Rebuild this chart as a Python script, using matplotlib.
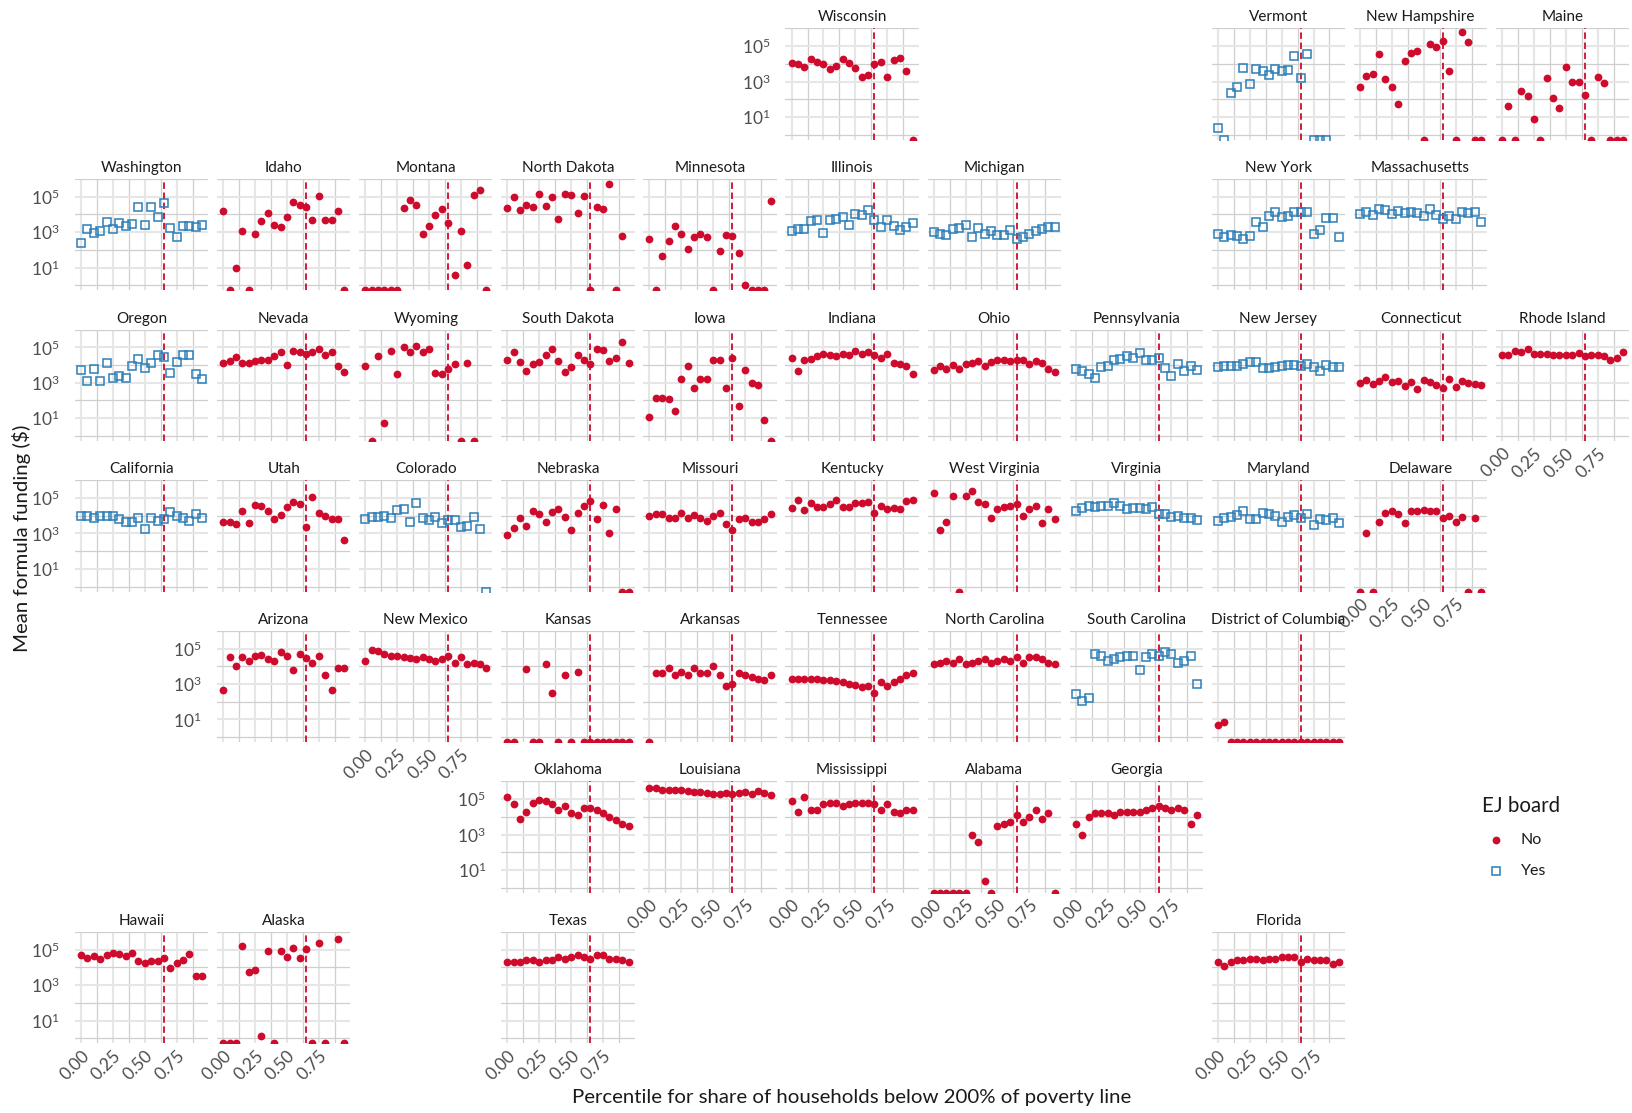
import numpy as np
import matplotlib.pyplot as plt
from matplotlib.lines import Line2D
from matplotlib.ticker import FixedLocator, FuncFormatter, NullFormatter

plt.rcParams['font.family'] = ['Lato', 'DejaVu Sans']
plt.rcParams['mathtext.fontset'] = 'custom'
plt.rcParams['mathtext.rm'] = 'Lato'
plt.rcParams['mathtext.it'] = 'Lato:italic'
plt.rcParams['mathtext.bf'] = 'Lato:bold'

# poverty percentile bins and the disadvantaged-community cutoff
pct = [0.00, 0.05, 0.10, 0.15, 0.20, 0.25, 0.30, 0.35, 0.40, 0.45,
       0.50, 0.55, 0.60, 0.65, 0.70, 0.75, 0.80, 0.85, 0.90, 0.95]
cutoff = 0.65

N = None      # bin received no funding ($0)
NA = np.nan   # bin has no tracts

# log10 of mean formula funding ($) per percentile bin
wisconsin = [4.04, 4.0, 3.83, 4.28, 4.13, 3.98, 3.72, 3.9, 4.28, 4.04, 3.75, 3.28, 3.38, 3.98, 4.11, 3.28, 4.23, 4.32, 3.57, N]
vermont = [0.38, N, 2.35, 2.72, 3.77, 2.87, 3.72, 3.58, 3.38, 3.73, 3.6, 3.66, 4.46, 3.21, 4.56, N, N, N, NA, NA]
new_hampshire = [2.67, 3.32, 3.4, 4.58, 3.12, 2.69, 1.75, 4.15, 4.63, 4.73, N, 5.1, 4.95, 5.29, 3.57, N, 5.78, 5.23, N, N]
maine = [N, 1.62, N, 2.48, 2.2, 0.91, N, 3.21, 2.1, 1.51, 3.85, 2.99, 2.99, 2.25, N, 3.23, 2.91, N, N, N]

washington = [2.39, 3.18, 2.95, 3.05, 3.56, 3.2, 3.5, 3.33, 3.48, 4.4, 3.39, 4.42, 3.87, 4.66, 3.26, 2.71, 3.35, 3.35, 3.29, 3.42]
idaho = [4.17, N, 1.0, 3.09, N, 2.9, 3.65, 4.08, 3.39, 3.29, 3.86, 4.72, 4.51, 4.4, 3.67, 5.02, 3.69, 3.69, 4.19, N]
montana = [N, N, N, N, N, N, 4.39, 4.84, 4.54, 2.89, 3.34, 3.96, 4.31, 3.5, 0.6, 3.04, 1.12, 5.08, 5.36, N]
north_dakota = [4.39, 5.0, 4.24, 4.52, 4.41, 5.17, 4.48, 4.97, 3.75, 5.17, 5.1, 4.09, 5.02, N, 4.41, 4.31, 5.7, N, 2.77, NA]
minnesota = [2.64, N, 1.68, 2.51, 3.35, 2.92, 2.06, 2.72, 2.87, 2.74, N, 1.91, 2.85, 2.81, 1.85, 0.0, N, N, N, 4.76]
illinois = [3.07, 3.19, 3.19, 3.62, 3.69, 2.96, 3.69, 3.75, 3.84, 3.43, 4.01, 3.99, 4.24, 3.67, 3.28, 3.69, 3.32, 3.15, 3.28, 3.49]
michigan = [3.0, 2.92, 2.85, 3.19, 3.24, 3.43, 2.74, 3.22, 2.9, 3.09, 2.85, 2.85, 3.13, 2.62, 2.75, 2.9, 3.05, 3.2, 3.3, 3.3]
new_york = [2.9, 2.7, 2.83, 2.77, 2.6, 2.79, 3.6, 3.28, 3.94, 4.11, 3.84, 3.94, 4.16, 4.16, 4.16, 2.9, 3.13, 3.79, 3.82, 2.7]
massachusetts = [4.01, 4.12, 3.99, 4.29, 4.26, 4.01, 4.22, 4.09, 4.14, 4.07, 3.9, 4.29, 3.96, 3.75, 3.94, 3.77, 4.16, 4.07, 4.12, 3.6]

oregon = [3.73, 3.11, 3.77, 3.09, 4.09, 3.28, 3.41, 3.26, 3.92, 4.35, 3.82, 4.12, 4.56, 4.44, 3.54, 4.16, 4.54, 4.59, 3.5, 3.2]
nevada = [4.09, 4.22, 4.48, 4.09, 4.14, 4.24, 4.31, 4.31, 4.5, 4.71, 4.01, 4.78, 4.76, 4.65, 4.72, 4.93, 4.54, 4.71, 3.94, 3.62]
wyoming = [3.97, N, 4.5, 0.75, 4.78, 3.52, 4.99, 4.74, 5.08, 4.72, 4.89, 3.56, 3.47, 3.8, 4.07, N, 4.11, N, NA, NA]
south_dakota = [4.26, 4.74, 4.18, 3.69, 4.05, 4.18, 4.56, 4.93, 4.24, 3.62, 3.88, 4.56, 4.31, 4.07, 4.89, 4.84, 4.22, 4.37, 5.31, 4.09]
iowa = [1.05, 2.12, 2.14, 2.06, 1.38, 3.24, 3.96, 2.7, 3.2, 3.2, 4.27, 4.31, 2.72, 4.39, 1.67, 3.71, 3.0, 2.9, 0.92, N]
indiana = [4.41, 3.67, 4.27, 4.33, 4.5, 4.63, 4.59, 4.52, 4.65, 4.56, 4.78, 4.61, 4.74, 4.54, 4.41, 4.63, 4.14, 4.05, 3.96, 3.52]
ohio = [3.71, 3.94, 3.79, 3.99, 3.77, 4.05, 4.14, 4.22, 3.97, 4.18, 4.26, 4.31, 4.2, 4.29, 4.29, 4.07, 4.2, 4.12, 3.8, 3.6]
pennsylvania = [3.77, 3.65, 3.47, 3.28, 3.9, 3.96, 4.31, 4.33, 4.5, 4.39, 4.67, 4.27, 4.27, 4.42, 3.82, 3.37, 4.05, 3.65, 3.92, 3.73]
new_jersey = [3.88, 3.96, 3.96, 3.94, 4.07, 4.16, 4.16, 3.86, 3.84, 3.9, 3.94, 3.99, 3.99, 3.97, 4.05, 3.88, 3.67, 3.99, 3.9, 3.9]
connecticut = [2.96, 3.17, 2.92, 3.09, 3.3, 3.07, 3.09, 2.83, 3.04, 2.66, 3.13, 3.02, 2.9, 2.72, 3.24, 2.76, 3.09, 3.0, 2.94, 2.89]
rhode_island = [4.57, 4.57, 4.8, 4.72, 4.89, 4.63, 4.63, 4.65, 4.56, 4.57, 4.57, 4.59, 4.69, 4.5, 4.54, 4.54, 4.5, 4.31, 4.41, 4.72]

california = [3.99, 3.99, 3.84, 3.97, 3.97, 3.97, 3.79, 3.64, 3.64, 3.86, 3.24, 3.86, 3.71, 3.8, 4.22, 3.99, 3.86, 3.71, 4.07, 3.84]
utah = [3.62, 3.62, 3.52, 4.27, 3.6, 4.61, 4.52, 4.26, 3.82, 4.01, 4.5, 4.78, 4.67, 3.35, 5.06, 4.16, 3.99, 3.8, 3.82, 2.62]
colorado = [3.79, 3.92, 3.94, 3.97, 3.84, 4.31, 4.37, 3.64, 4.72, 3.84, 3.75, 3.94, 3.6, 3.75, 3.73, 3.34, 3.41, 3.94, 3.26, N]
nebraska = [2.9, 3.28, 3.84, 3.43, 4.26, 4.11, 3.64, 4.18, 4.37, 3.92, 3.2, 4.16, 4.57, 4.84, 3.82, 4.61, 3.04, 4.37, N, N]
missouri = [3.97, 4.07, 4.11, 3.88, 3.88, 4.16, 3.84, 4.01, 3.84, 3.69, 3.97, 4.14, 3.52, 3.17, 3.82, 3.84, 3.64, 3.64, 3.82, 4.1]
kentucky = [4.42, 4.86, 4.33, 4.69, 4.48, 4.5, 4.67, 4.87, 4.46, 4.46, 4.74, 4.74, 4.78, 4.16, 4.52, 4.37, 4.44, 4.35, 4.84, 4.87]
west_virginia = [5.25, 3.2, 3.65, 5.1, N, 5.08, 5.38, 4.76, 4.63, 3.88, 4.37, 4.5, 4.52, 4.67, 3.99, 4.37, 4.54, 3.58, 4.37, 3.79]
virginia = [4.26, 4.42, 4.57, 4.5, 4.54, 4.52, 4.71, 4.56, 4.39, 4.41, 4.41, 4.35, 4.48, 4.11, 4.11, 3.92, 3.96, 3.84, 3.84, 3.73]
maryland = [3.69, 3.86, 3.94, 4.05, 4.27, 3.82, 3.82, 4.16, 4.07, 3.96, 3.65, 3.9, 4.03, 3.86, 4.09, 3.5, 3.8, 3.77, 3.88, 3.6]
delaware = [N, 3.04, N, 3.62, 4.16, 4.29, 4.12, 3.58, 4.29, 4.29, 4.33, 4.29, 4.27, 3.86, 3.99, 3.64, 3.9, N, 3.84, N]

arizona = [2.65, 4.5, 4.0, 4.5, 4.3, 4.6, 4.65, 4.4, 4.3, 4.8, 4.6, 3.8, 4.7, 4.45, 4.2, 4.55, 3.5, 2.65, 3.9, 3.9]
new_mexico = [4.3, 4.9, 4.85, 4.7, 4.6, 4.6, 4.5, 4.45, 4.4, 4.5, 4.4, 4.3, 4.4, 4.55, 4.2, 4.5, 4.1, 4.2, 4.1, 3.9]
kansas = [N, N, NA, 3.87, N, N, 4.1, 2.5, N, 3.5, N, 3.7, N, N, N, N, N, N, N, N]
arkansas = [N, 3.6, 3.6, 3.9, 3.5, 3.7, 3.5, 3.9, 3.6, 3.6, 4.0, 3.5, 2.9, 3.0, 3.6, 3.5, 3.4, 3.3, 3.2, 3.5]
tennessee = [3.3, 3.3, 3.3, 3.3, 3.3, 3.25, 3.2, 3.15, 3.1, 3.0, 2.95, 2.85, 2.9, 2.5, 3.1, 2.9, 3.1, 3.3, 3.5, 3.6]
north_carolina = [4.1, 4.2, 4.3, 4.2, 4.4, 4.1, 4.2, 4.3, 4.4, 4.2, 4.3, 4.4, 4.3, 4.5, 4.2, 4.5, 4.5, 4.4, 4.2, 4.1]
south_carolina = [2.45, 2.05, 2.2, 4.7, 4.6, 4.3, 4.4, 4.5, 4.6, 4.6, 3.8, 4.5, 4.7, 4.6, 4.8, 4.7, 4.2, 4.3, 4.6, 3.0]
district_of_columbia = [0.68, 0.87, N, N, N, N, N, N, N, N, N, N, N, N, N, N, N, N, N, N]

oklahoma = [5.1, 4.7, 3.9, 4.3, 4.8, 4.95, 4.9, 4.7, 4.4, 4.6, 4.2, 4.1, 4.5, 4.5, 4.4, 4.2, 4.0, 3.8, 3.6, 3.5]
louisiana = [5.6, 5.6, 5.5, 5.5, 5.5, 5.5, 5.45, 5.4, 5.4, 5.35, 5.3, 5.3, 5.35, 5.3, 5.35, 5.4, 5.3, 5.45, 5.35, 5.25]
mississippi = [4.9, 4.3, 5.1, 4.4, 4.4, 4.7, 4.8, 4.8, 4.6, 4.7, 4.8, 4.8, 4.8, 4.75, 4.4, 4.7, 4.3, 4.2, 4.4, 4.4]
alabama = [N, N, N, N, N, N, 3.0, 2.6, 0.4, N, 3.5, 3.6, 3.7, 4.1, 3.7, 4.0, 4.4, 3.9, 4.2, N]
georgia = [3.6, 3.0, 4.0, 4.2, 4.2, 4.2, 4.1, 4.3, 4.3, 4.3, 4.3, 4.4, 4.5, 4.6, 4.5, 4.4, 4.5, 4.4, 3.6, 4.1]

hawaii = [4.7, 4.51, 4.66, 4.47, 4.72, 4.83, 4.74, 4.62, 4.83, 4.36, 4.25, 4.36, 4.36, 4.55, 3.99, 4.23, 4.42, 4.77, 3.52, 3.5]
alaska = [N, N, N, 5.23, 3.76, 3.86, 0.12, 4.91, N, 4.92, 4.57, 5.11, 4.51, 5.04, N, 5.39, N, NA, 5.62, N]
texas = [4.3, 4.3, 4.3, 4.4, 4.4, 4.3, 4.4, 4.4, 4.6, 4.5, 4.6, 4.7, 4.6, 4.5, 4.7, 4.7, 4.5, 4.5, 4.4, 4.3]
florida = [4.3, 4.1, 4.3, 4.4, 4.4, 4.5, 4.5, 4.4, 4.5, 4.5, 4.6, 4.6, 4.6, 4.3, 4.5, 4.4, 4.4, 4.4, 4.2, 4.3]

# states with an environmental justice board
ej_board = ['Washington', 'Oregon', 'California', 'Colorado', 'Vermont', 'New York',
            'Massachusetts', 'Illinois', 'Michigan', 'Pennsylvania', 'New Jersey',
            'Virginia', 'Maryland', 'South Carolina']

# geofacet grid: state -> (row, col, series)
grid = {
    'Wisconsin': (0, 5, wisconsin), 'Vermont': (0, 8, vermont),
    'New Hampshire': (0, 9, new_hampshire), 'Maine': (0, 10, maine),
    'Washington': (1, 0, washington), 'Idaho': (1, 1, idaho), 'Montana': (1, 2, montana),
    'North Dakota': (1, 3, north_dakota), 'Minnesota': (1, 4, minnesota),
    'Illinois': (1, 5, illinois), 'Michigan': (1, 6, michigan),
    'New York': (1, 8, new_york), 'Massachusetts': (1, 9, massachusetts),
    'Oregon': (2, 0, oregon), 'Nevada': (2, 1, nevada), 'Wyoming': (2, 2, wyoming),
    'South Dakota': (2, 3, south_dakota), 'Iowa': (2, 4, iowa), 'Indiana': (2, 5, indiana),
    'Ohio': (2, 6, ohio), 'Pennsylvania': (2, 7, pennsylvania), 'New Jersey': (2, 8, new_jersey),
    'Connecticut': (2, 9, connecticut), 'Rhode Island': (2, 10, rhode_island),
    'California': (3, 0, california), 'Utah': (3, 1, utah), 'Colorado': (3, 2, colorado),
    'Nebraska': (3, 3, nebraska), 'Missouri': (3, 4, missouri), 'Kentucky': (3, 5, kentucky),
    'West Virginia': (3, 6, west_virginia), 'Virginia': (3, 7, virginia),
    'Maryland': (3, 8, maryland), 'Delaware': (3, 9, delaware),
    'Arizona': (4, 1, arizona), 'New Mexico': (4, 2, new_mexico), 'Kansas': (4, 3, kansas),
    'Arkansas': (4, 4, arkansas), 'Tennessee': (4, 5, tennessee),
    'North Carolina': (4, 6, north_carolina), 'South Carolina': (4, 7, south_carolina),
    'District of Columbia': (4, 8, district_of_columbia),
    'Oklahoma': (5, 3, oklahoma), 'Louisiana': (5, 4, louisiana),
    'Mississippi': (5, 5, mississippi), 'Alabama': (5, 6, alabama), 'Georgia': (5, 7, georgia),
    'Hawaii': (6, 0, hawaii), 'Alaska': (6, 1, alaska), 'Texas': (6, 3, texas),
    'Florida': (6, 8, florida),
}

RED = '#CE0B2C'
BLUE = '#2C7FB8'
W, H = 1633, 1113
X0, Y0 = 75.0, 28.3        # top-left panel corner (px)
DX, DY = 142.1, 150.6      # panel pitch
PW, PH = 133.3, 111.5      # panel size
YLIM = (10 ** -0.285, 10 ** 6.005)
XLIM = (-0.0475, 0.9975)

fig = plt.figure(figsize=(W / 100, H / 100), dpi=100)

first_in_row = {}
last_in_col = {}
for name, (r, c, _) in grid.items():
    first_in_row[r] = min(first_in_row.get(r, 99), c)
    last_in_col[c] = max(last_in_col.get(c, -1), r)

x = np.array(pct)
for name, (r, c, vals) in grid.items():
    left = X0 + c * DX
    top = Y0 + r * DY
    ax = fig.add_axes([left / W, 1 - (top + PH) / H, PW / W, PH / H])
    ax.set_yscale('log')
    ax.set_xlim(XLIM)
    ax.set_ylim(YLIM)
    for s in ax.spines.values():
        s.set_visible(False)

    ax.yaxis.set_major_locator(FixedLocator([1e1, 1e3, 1e5]))
    ax.yaxis.set_minor_locator(FixedLocator([1e0, 1e2, 1e4, 1e6]))
    ax.xaxis.set_major_locator(FixedLocator([0, 0.25, 0.5, 0.75]))
    ax.xaxis.set_minor_locator(FixedLocator([0.125, 0.375, 0.625, 0.875]))
    ax.grid(which='major', color='#E6E6E6', lw=1.5)
    ax.grid(which='minor', color='#CFCFCF', lw=0.9)
    ax.set_axisbelow(True)
    ax.yaxis.set_minor_formatter(NullFormatter())
    ax.xaxis.set_minor_formatter(NullFormatter())
    ax.tick_params(which='both', length=0, labelsize=12.5, labelcolor='#4D4D4D')
    ax.yaxis.set_major_formatter(FuncFormatter(lambda v, p: r'$10^{%d}$' % round(np.log10(v))))
    ax.xaxis.set_major_formatter(FuncFormatter(lambda v, p: '%.2f' % v))
    ax.tick_params(axis='y', pad=11)
    ax.tick_params(axis='x', pad=3)
    if c != first_in_row[r]:
        ax.tick_params(labelleft=False)
    if r != last_in_col[c]:
        ax.tick_params(labelbottom=False)
    else:
        for lab in ax.get_xticklabels():
            lab.set_rotation(45)
            lab.set_ha('right')
            lab.set_va('top')
            lab.set_rotation_mode('anchor')

    ax.axvline(cutoff, color=RED, lw=1.3, ls=(0, (3.6, 2.0)), zorder=2)

    v = np.array([np.nan if a is None else a for a in vals], dtype=float)
    y = np.where(np.isnan(v), np.nan, 10 ** v)
    zero = np.array([a is None for a in vals])
    y[zero] = YLIM[0]
    if name in ej_board:
        ax.plot(x, y, 's', ms=5.4, mfc='none', mec=BLUE, mew=1.1, zorder=3)
    else:
        ax.plot(x, y, 'o', ms=5.6, color=RED, mec='none', zorder=3)
    ax.set_title(name, fontsize=11, color='#1A1A1A', pad=5)

fig.text(22 / W, 1 - 538 / H, 'Mean formula funding ($)', rotation=90,
         fontsize=14.7, ha='center', va='center', color='#1A1A1A')
fig.text(852 / W, 1 - 1097 / H, 'Percentile for share of households below 200% of poverty line',
         fontsize=14.7, ha='center', va='center', color='#1A1A1A')

# legend
fig.text(1482 / W, 1 - 806 / H, 'EJ board', fontsize=14.8, ha='left', va='center', color='#1A1A1A')
fig.add_artist(Line2D([1496 / W], [1 - 840 / H], marker='o', ms=5.6, color=RED, mec='none',
                      ls='none', transform=fig.transFigure))
fig.add_artist(Line2D([1496 / W], [1 - 871 / H], marker='s', ms=5.4, mfc='none', mec=BLUE,
                      mew=1.1, ls='none', transform=fig.transFigure))
fig.text(1521 / W, 1 - 840 / H, 'No', fontsize=11.5, ha='left', va='center', color='#1A1A1A')
fig.text(1521 / W, 1 - 871 / H, 'Yes', fontsize=11.5, ha='left', va='center', color='#1A1A1A')

fig.savefig('out.png', dpi=100, facecolor='white')
